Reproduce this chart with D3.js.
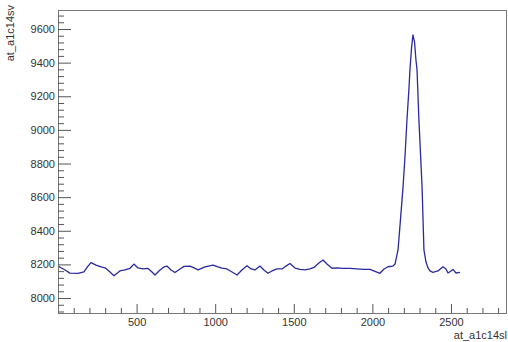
<!DOCTYPE html>
<html>
<head>
<meta charset="utf-8">
<script src="https://cdn.jsdelivr.net/npm/d3@7"></script>
<style>
  body { margin: 0; background: #fff; }
  svg { display: block; font-family: "Liberation Sans", Arial, sans-serif; }
</style>
</head>
<body>
<div id="chart"></div>
<script>
// values (x = at_a1c14sl, y = at_a1c14sv)
const xValues = [0, 19, 45, 76, 127, 165, 191, 210, 242, 274, 299, 324, 356, 394, 426, 458, 483, 509, 541, 573,
  598, 617, 649, 674, 693, 719, 744, 776, 802, 840, 872, 891, 935, 986, 1018, 1043, 1075, 1107, 1139, 1170,
  1202, 1228, 1253, 1285, 1310, 1336, 1361, 1393, 1425, 1450, 1476, 1508, 1539, 1571, 1603, 1628, 1660, 1686,
  1711, 1743, 1775, 1813, 1858, 1902, 1947, 1985, 2017, 2048, 2074, 2099, 2131, 2144, 2163, 2176, 2195, 2208,
  2220, 2233, 2239, 2249, 2258, 2268, 2277, 2284, 2296, 2316, 2328, 2341, 2354, 2366, 2385, 2417, 2449, 2468,
  2481, 2500, 2513, 2532, 2557];
const yValues = [8190, 8180, 8167, 8148, 8147, 8155, 8190, 8211, 8196, 8185, 8180, 8161, 8133, 8161, 8167, 8177, 8202, 8179, 8173, 8176,
  8155, 8137, 8167, 8185, 8190, 8167, 8152, 8173, 8188, 8190, 8176, 8167, 8185, 8196, 8185, 8178, 8173, 8155, 8137, 8167,
  8192, 8173, 8167, 8190, 8167, 8147, 8161, 8173, 8173, 8190, 8205, 8178, 8170, 8167, 8173, 8182, 8208, 8226,
  8202, 8177, 8179, 8176, 8176, 8173, 8170, 8170, 8158, 8147, 8173, 8186, 8190, 8202, 8286, 8435, 8661, 8851,
  9060, 9250, 9357, 9488, 9565, 9524, 9417, 9357, 9060, 8661, 8286, 8214, 8179, 8161, 8153, 8161, 8186, 8173,
  8149, 8161, 8170, 8149, 8152];

const xTicks = [500, 1000, 1500, 2000, 2500];
const yTicks = [8000, 8200, 8400, 8600, 8800, 9000, 9200, 9400, 9600];
const xTitle = "at_a1c14sl";
const yTitle = "at_a1c14sv";

const width = 508;
const height = 342;
const margin = ({
  left: 58,
  top: 10,
  right: 2,
  bottom: 29
});

const chartWidth = width - margin.left - margin.right;
const chartHeight = height - margin.top - margin.bottom;

const xScale = d3.scaleLinear()
  .domain([0, 2850])
  .range([0, chartWidth]);

const yScale = d3.scaleLinear()
  .domain([7911, 9713])
  .range([chartHeight, 0]);

// ROOT style: ticks point into the frame
let xAxisGenerator = d3.axisBottom(xScale)
  .tickValues(xTicks)
  .tickSize(-9)
  .tickPadding(5)
  .tickFormat(d3.format("d"));

let xMinorGenerator = d3.axisBottom(xScale)
  .tickValues(d3.range(100, 2850, 100).filter(d => d % 500 !== 0))
  .tickSize(-5)
  .tickFormat("");

let yAxisGenerator = d3.axisLeft(yScale)
  .tickValues(yTicks)
  .tickSize(-13)
  .tickPadding(3)
  .tickFormat(d3.format("d"));

let yMinorGenerator = d3.axisLeft(yScale)
  .tickValues(d3.range(7920, 9713, 40).filter(d => d % 200 !== 0))
  .tickSize(-6)
  .tickFormat("");

let lineGenerator = d3.line()
  .x((d, i) => xScale(xValues[i]))
  .y((d, i) => yScale(yValues[i]));

const svg = d3.select("#chart").append("svg")
  .attr("width", width)
  .attr("height", height);

const g = svg.append("g")
  .attr("transform", `translate(${margin.left}, ${margin.top})`);

g.append("path")
  .datum(yValues)
  .attr("d", lineGenerator)
  .style("fill", "none")
  .style("stroke", "#2a2a9e")
  .style("stroke-width", 1.3)
  .style("stroke-linejoin", "round");

g.append("rect")
  .attr("x", 0.5)
  .attr("y", 0.5)
  .attr("width", chartWidth)
  .attr("height", chartHeight)
  .style("fill", "none")
  .style("stroke", "#777");

for (const [gen, isX] of [[xAxisGenerator, true], [xMinorGenerator, true], [yAxisGenerator, false], [yMinorGenerator, false]]) {
  const ax = g.append("g").call(gen);
  if (isX) ax.attr("transform", `translate(0, ${chartHeight})`);
  ax.select(".domain").remove();
  ax.selectAll("line").style("stroke", "#555");
  ax.selectAll("text")
    .style("font-size", "11px")
    .style("fill", "#333");
}

svg.append("text")
  .attr("x", width - 1)
  .attr("y", 339)
  .attr("text-anchor", "end")
  .style("font-size", "11px")
  .style("fill", "#333")
  .text(xTitle);

svg.append("text")
  .attr("transform", `translate(14, 5) rotate(-90)`)
  .attr("text-anchor", "end")
  .style("font-size", "11px")
  .style("fill", "#333")
  .text(yTitle);
</script>
</body>
</html>
